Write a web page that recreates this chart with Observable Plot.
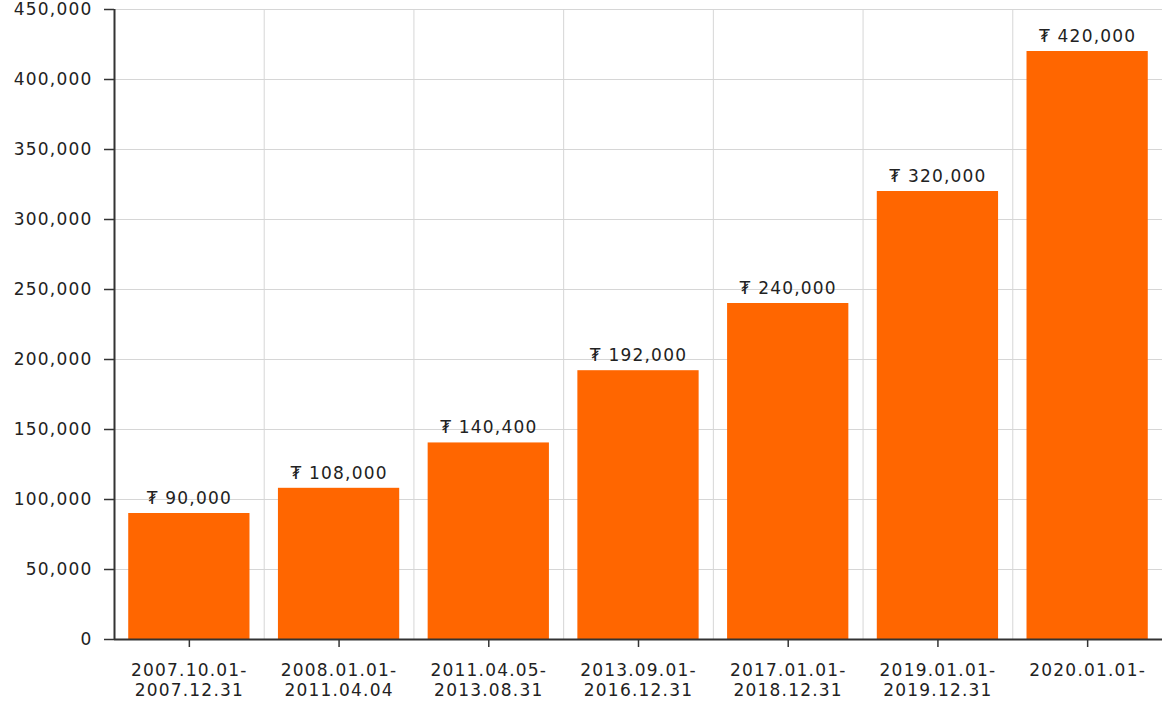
<!DOCTYPE html>
<html>
<head>
<meta charset="utf-8">
<script src="https://cdn.jsdelivr.net/npm/d3@7"></script>
<script src="https://cdn.jsdelivr.net/npm/@observablehq/plot@0.6"></script>
<style>
  html, body { margin: 0; padding: 0; background: #fff; }
  svg text { letter-spacing: 1.2px; }
</style>
</head>
<body>
<div id="chart"></div>
<script>
const startDates = ["2007.10.01", "2008.01.01", "2011.04.05", "2013.09.01", "2017.01.01", "2019.01.01", "2020.01.01"];
const endDates = ["2007.12.31", "2011.04.04", "2013.08.31", "2016.12.31", "2018.12.31", "2019.12.31", ""];
const values = [90000, 108000, 140400, 192000, 240000, 320000, 420000];
const yTicks = [0, 50000, 100000, 150000, 200000, 250000, 300000, 350000, 400000, 450000];

const labels = startDates.map((s, i) => s + "-" + (endDates[i] ? "\n" + endDates[i] : ""));
const data = labels.map((l, i) => ({label: l, value: values[i]}));

const W = 1162, H = 709, ML = 114, MR = 0;
const step = (W - ML - MR) / labels.length;
const fmt = d3.format(",");

const chart = Plot.plot({
  width: W, height: H,
  marginLeft: ML, marginRight: MR, marginTop: 9, marginBottom: 70,
  style: {fontFamily: "'DejaVu Sans', Verdana, sans-serif", fontSize: "17px", color: "#222", background: "#fff", overflow: "visible"},
  x: {domain: labels, paddingInner: 0.19, paddingOuter: 0.095, round: false, label: null},
  y: {domain: [0, 450000], label: null},
  marks: [
    Plot.gridY(yTicks, {stroke: "#d6d6d6", strokeOpacity: 1}),
    Plot.ruleX(labels.slice(0, -1), {dx: step / 2, y1: 0, y2: 450000, stroke: "#d6d6d6"}),
    Plot.barY(data, {x: "label", y: "value", fill: "#ff6600"}),
    Plot.text(data, {x: "label", y: "value", text: d => "₮ " + fmt(d.value), dy: -15, fill: "#222", fontSize: 17}),
    Plot.ruleX([labels[0]], {dx: -step / 2, y1: 0, y2: 450000, stroke: "#333", strokeWidth: 2}),
    Plot.ruleY([0], {stroke: "#333", strokeWidth: 2}),
    Plot.axisY({ticks: yTicks, tickFormat: d => fmt(d), tickSize: 10, tickPadding: 12, stroke: "#333", strokeWidth: 1.5, fontSize: 17}),
    Plot.axisX({tickSize: 8, tickPadding: 14, lineHeight: 1.2, stroke: "#333", strokeWidth: 1.5, fontSize: 17})
  ]
});
document.getElementById("chart").appendChild(chart);
</script>
</body>
</html>
